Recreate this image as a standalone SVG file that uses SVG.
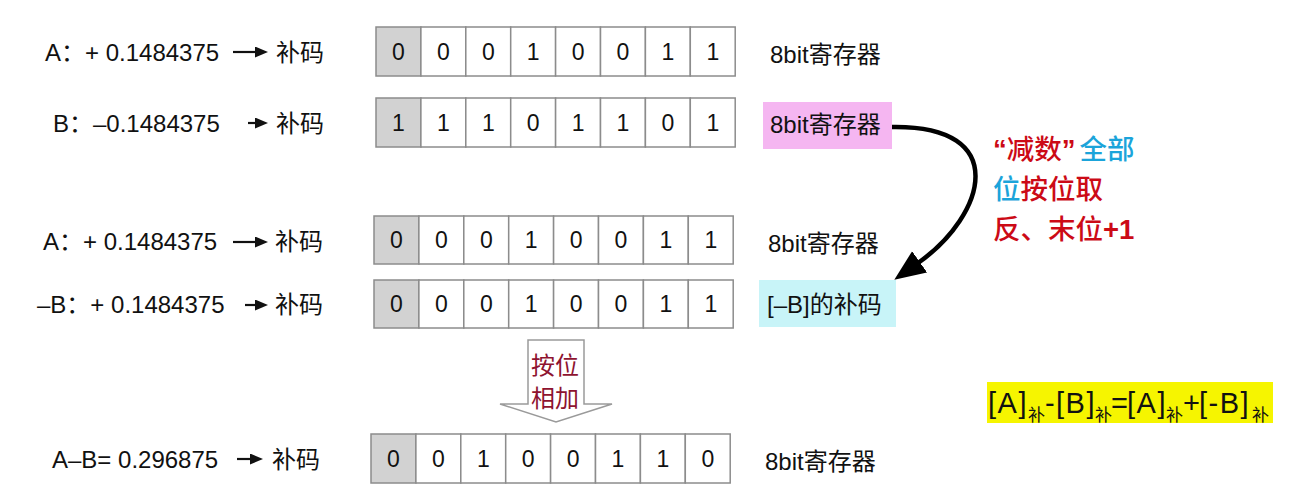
<svg xmlns="http://www.w3.org/2000/svg" width="1312" height="496" viewBox="0 0 1312 496">
<defs>
<style>
text{font-family:"Liberation Sans","Noto Sans CJK SC",sans-serif;fill:#111;}
.lbl{font-size:24px;}
.dig{font-size:23px;text-anchor:middle;}
.cell{fill:#fff;stroke:#8c8c8c;stroke-width:1.5;}
.sign{fill:#d2d2d2;stroke:#8c8c8c;stroke-width:1.5;}
.sm{stroke:#111;stroke-width:2.2;fill:none;}
.note{font-size:27.5px;font-weight:500;font-family:"Noto Sans CJK SC","Liberation Sans",sans-serif;}
.q{font-family:"Liberation Sans",sans-serif;font-weight:bold;}
.red{fill:#cc0a16;}
.blue{fill:#1ba4da;}
.mar{fill:#8e1330;font-size:24px;}
.fm{font-size:29px;letter-spacing:1.5px;}
.sub{font-size:17px;}
</style>
<marker id="bigHead" markerUnits="userSpaceOnUse" markerWidth="34" markerHeight="30" refX="2" refY="13" orient="auto">
<path d="M0,0 L31,13 L0,26 Z" fill="#000"/>
</marker>
<marker id="smHead" markerUnits="userSpaceOnUse" markerWidth="14" markerHeight="12" refX="0" refY="5.5" orient="auto">
<path d="M0,0 L13,5.5 L0,11 Z" fill="#111"/>
</marker>
</defs>
<rect width="1312" height="496" fill="#fff"/>

<!-- Row 1 -->
<g id="rowA1">
<text class="lbl" x="45" y="61">A：+ 0.1484375</text>
<line class="sm" x1="233" y1="52" x2="255" y2="52" marker-end="url(#smHead)"/>
<text class="lbl" x="276" y="61">补码</text>
<rect class="sign" x="376" y="27" width="44.9" height="49"/>
<rect class="cell" x="420.9" y="27" width="44.9" height="49"/>
<rect class="cell" x="465.8" y="27" width="44.9" height="49"/>
<rect class="cell" x="510.7" y="27" width="44.9" height="49"/>
<rect class="cell" x="555.6" y="27" width="44.9" height="49"/>
<rect class="cell" x="600.5" y="27" width="44.9" height="49"/>
<rect class="cell" x="645.4" y="27" width="44.9" height="49"/>
<rect class="cell" x="690.3" y="27" width="44.9" height="49"/>
<text class="dig" x="398.5" y="60">0</text><text class="dig" x="443.4" y="60">0</text><text class="dig" x="488.3" y="60">0</text><text class="dig" x="533.2" y="60">1</text><text class="dig" x="578.1" y="60">0</text><text class="dig" x="623" y="60">0</text><text class="dig" x="667.9" y="60">1</text><text class="dig" x="712.8" y="60">1</text>
<text class="lbl" x="770" y="63">8bit寄存器</text>
</g>

<!-- Row 2 -->
<g id="rowB">
<text class="lbl" x="53" y="132">B：–0.1484375</text>
<line class="sm" x1="248" y1="123" x2="255" y2="123" marker-end="url(#smHead)"/>
<text class="lbl" x="276" y="132">补码</text>
<rect class="sign" x="376" y="98" width="44.9" height="49"/>
<rect class="cell" x="420.9" y="98" width="44.9" height="49"/>
<rect class="cell" x="465.8" y="98" width="44.9" height="49"/>
<rect class="cell" x="510.7" y="98" width="44.9" height="49"/>
<rect class="cell" x="555.6" y="98" width="44.9" height="49"/>
<rect class="cell" x="600.5" y="98" width="44.9" height="49"/>
<rect class="cell" x="645.4" y="98" width="44.9" height="49"/>
<rect class="cell" x="690.3" y="98" width="44.9" height="49"/>
<text class="dig" x="398.5" y="131">1</text><text class="dig" x="443.4" y="131">1</text><text class="dig" x="488.3" y="131">1</text><text class="dig" x="533.2" y="131">0</text><text class="dig" x="578.1" y="131">1</text><text class="dig" x="623" y="131">1</text><text class="dig" x="667.9" y="131">0</text><text class="dig" x="712.8" y="131">1</text>
<rect x="763" y="102" width="129" height="47" fill="#f5b6f1"/>
<text class="lbl" x="770" y="133">8bit寄存器</text>
</g>

<!-- Row 3 -->
<g id="rowA2">
<text class="lbl" x="43" y="250">A：+ 0.1484375</text>
<line class="sm" x1="233" y1="242" x2="255" y2="242" marker-end="url(#smHead)"/>
<text class="lbl" x="275" y="250">补码</text>
<rect class="sign" x="374" y="216" width="44.9" height="48"/>
<rect class="cell" x="418.9" y="216" width="44.9" height="48"/>
<rect class="cell" x="463.8" y="216" width="44.9" height="48"/>
<rect class="cell" x="508.7" y="216" width="44.9" height="48"/>
<rect class="cell" x="553.6" y="216" width="44.9" height="48"/>
<rect class="cell" x="598.5" y="216" width="44.9" height="48"/>
<rect class="cell" x="643.4" y="216" width="44.9" height="48"/>
<rect class="cell" x="688.3" y="216" width="44.9" height="48"/>
<text class="dig" x="396.5" y="248">0</text><text class="dig" x="441.4" y="248">0</text><text class="dig" x="486.3" y="248">0</text><text class="dig" x="531.2" y="248">1</text><text class="dig" x="576.1" y="248">0</text><text class="dig" x="621" y="248">0</text><text class="dig" x="665.9" y="248">1</text><text class="dig" x="710.8" y="248">1</text>
<text class="lbl" x="768" y="252">8bit寄存器</text>
</g>

<!-- Row 4 -->
<g id="rowNegB">
<text class="lbl" x="37" y="313">–B：+ 0.1484375</text>
<line class="sm" x1="245" y1="305" x2="255" y2="305" marker-end="url(#smHead)"/>
<text class="lbl" x="275" y="313">补码</text>
<rect class="sign" x="374" y="280" width="44.9" height="48"/>
<rect class="cell" x="418.9" y="280" width="44.9" height="48"/>
<rect class="cell" x="463.8" y="280" width="44.9" height="48"/>
<rect class="cell" x="508.7" y="280" width="44.9" height="48"/>
<rect class="cell" x="553.6" y="280" width="44.9" height="48"/>
<rect class="cell" x="598.5" y="280" width="44.9" height="48"/>
<rect class="cell" x="643.4" y="280" width="44.9" height="48"/>
<rect class="cell" x="688.3" y="280" width="44.9" height="48"/>
<text class="dig" x="396.5" y="312">0</text><text class="dig" x="441.4" y="312">0</text><text class="dig" x="486.3" y="312">0</text><text class="dig" x="531.2" y="312">1</text><text class="dig" x="576.1" y="312">0</text><text class="dig" x="621" y="312">0</text><text class="dig" x="665.9" y="312">1</text><text class="dig" x="710.8" y="312">1</text>
<rect x="759" y="280" width="137" height="47" fill="#c8f4f8"/>
<text class="lbl" x="767" y="313">[–B]的补码</text>
</g>

<!-- Add arrow -->
<g id="addArrow">
<polygon points="528,340 584,340 584,404 612,404 556,422 500,404 528,404" fill="#fff" stroke="#9a9a9a" stroke-width="1.5"/>
<text class="mar" x="531" y="374">按位</text>
<text class="mar" x="531" y="407">相加</text>
</g>

<!-- Result row -->
<g id="rowResult">
<text class="lbl" x="52" y="468">A–B= 0.296875</text>
<line class="sm" x1="237" y1="459" x2="250" y2="459" marker-end="url(#smHead)"/>
<text class="lbl" x="272" y="468">补码</text>
<rect class="sign" x="371" y="434" width="44.9" height="49"/>
<rect class="cell" x="415.9" y="434" width="44.9" height="49"/>
<rect class="cell" x="460.8" y="434" width="44.9" height="49"/>
<rect class="cell" x="505.7" y="434" width="44.9" height="49"/>
<rect class="cell" x="550.6" y="434" width="44.9" height="49"/>
<rect class="cell" x="595.5" y="434" width="44.9" height="49"/>
<rect class="cell" x="640.4" y="434" width="44.9" height="49"/>
<rect class="cell" x="685.3" y="434" width="44.9" height="49"/>
<text class="dig" x="393.5" y="467">0</text><text class="dig" x="438.4" y="467">0</text><text class="dig" x="483.3" y="467">1</text><text class="dig" x="528.2" y="467">0</text><text class="dig" x="573.1" y="467">0</text><text class="dig" x="618" y="467">1</text><text class="dig" x="662.9" y="467">1</text><text class="dig" x="707.8" y="467">0</text>
<text class="lbl" x="765" y="470">8bit寄存器</text>
</g>

<!-- Note -->
<g id="note">
<text class="note" x="993" y="159"><tspan class="red q">“</tspan><tspan class="red">减数</tspan><tspan class="red q">”</tspan><tspan class="blue" dx="4">全部</tspan></text>
<text class="note" x="993" y="199"><tspan class="blue">位</tspan><tspan class="red">按位取</tspan></text>
<text class="note red" x="993" y="239">反、末位<tspan class="q">+1</tspan></text>
</g>

<!-- Formula -->
<g id="formula">
<rect x="987" y="382" width="286" height="41" fill="#f6f500"/>
<text class="fm" x="988" y="413">[A]</text>
<text class="sub" x="1028" y="421">补</text>
<text class="fm" x="1045" y="413">-</text>
<text class="fm" x="1056" y="413">[B]</text>
<text class="sub" x="1095" y="421">补</text>
<text class="fm" x="1111" y="413">=</text>
<text class="fm" x="1127" y="413">[A]</text>
<text class="sub" x="1166" y="421">补</text>
<text class="fm" x="1183" y="413">+</text>
<text class="fm" x="1199" y="413">[-B]</text>
<text class="sub" x="1252" y="421">补</text>
</g>

<!-- Connectors -->
<g id="connectors">
<path d="M892,127 C1012,125 986,215 918,263" fill="none" stroke="#000" stroke-width="4.5" marker-end="url(#bigHead)"/>
</g>
</svg>
